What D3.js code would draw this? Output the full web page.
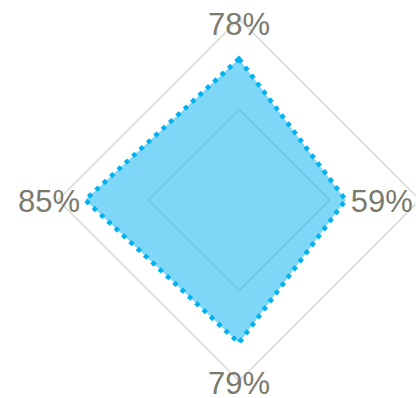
<!DOCTYPE html>
<html>
<head>
<meta charset="utf-8">
<script src="https://cdn.jsdelivr.net/npm/d3@7"></script>
<style>
  body { margin: 0; background: #fff; }
  svg { display: block; }
  .lbl { font-family: "Liberation Sans", Arial, sans-serif; font-size: 31px; fill: #7a7a6e; }
</style>
</head>
<body>
<svg></svg>
<script>
// one series, four axes (clockwise from top)
var axes = ["top", "right", "bottom", "left"];
var values = [78, 59, 79, 85];
var labels = ["78%", "59%", "79%", "85%"];
var gridLevels = [50, 100];

var width = 416, height = 398;
var cx = 239, cy = 200, radius = 181;

var svg = d3.select("svg").attr("width", width).attr("height", height);

var r = d3.scaleLinear().domain([0, 100]).range([0, radius]);
var angle = d3.scalePoint().domain(axes).range([0, 2 * Math.PI * 3 / 4]);

function pt(a, v) {
    var t = angle(a) - Math.PI / 2;
    return [cx + r(v) * Math.cos(t), cy + r(v) * Math.sin(t)];
}

var line = d3.line().curve(d3.curveLinearClosed);

// grid rings
svg.append("g").selectAll("path")
    .data(gridLevels)
    .enter().append("path")
    .attr("d", function (lv) { return line(axes.map(function (a) { return pt(a, lv); })); })
    .attr("fill", "none")
    .attr("stroke", "#d9d9d9")
    .attr("stroke-width", 1.5);

// data area
var pts = axes.map(function (a, i) { return pt(a, values[i]); });
svg.append("path")
    .attr("d", line(pts))
    .attr("fill", "#00b0ef")
    .attr("fill-opacity", 0.5)
    .attr("stroke", "#00b0ef")
    .attr("stroke-width", 4.5)
    .attr("stroke-dasharray", "4.5,5.5");

// value labels placed next to each vertex
var offs = {
    top: { dx: 0, dy: -24, anchor: "middle" },
    right: { dx: 5, dy: 12, anchor: "start" },
    bottom: { dx: 0, dy: 51, anchor: "middle" },
    left: { dx: -5, dy: 12, anchor: "end" }
};
svg.append("g").selectAll("text")
    .data(axes)
    .enter().append("text")
    .attr("class", "lbl")
    .attr("x", function (a, i) { return pts[i][0] + offs[a].dx; })
    .attr("y", function (a, i) { return pts[i][1] + offs[a].dy; })
    .attr("text-anchor", function (a) { return offs[a].anchor; })
    .text(function (a, i) { return labels[i]; });
</script>
</body>
</html>
